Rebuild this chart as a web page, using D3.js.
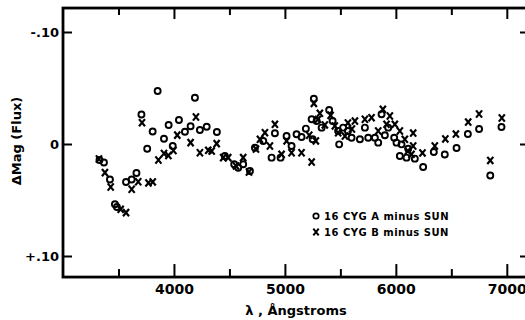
<!DOCTYPE html>
<html>
<head>
<meta charset="utf-8">
<script src="https://cdn.jsdelivr.net/npm/d3@7"></script>
<style>
  body { margin: 0; background: #fff; }
  svg { display: block; font-family: "DejaVu Sans", sans-serif; font-weight: bold; }
  .domain { display: none; }
  .tick line { stroke: #000; stroke-width: 2; }
  .tick text { fill: #000; }
</style>
</head>
<body>
<svg id="chart" width="525" height="320"></svg>
<script>
// 16 Cyg A minus Sun (circles)
const lambdaA = [3329, 3369, 3423, 3468, 3486, 3568, 3619, 3662, 3707, 3759, 3808, 3853,
  3910, 3952, 3989, 4045, 4099, 4150, 4189, 4234, 4295, 4387, 4459, 4543, 4579, 4624,
  4685, 4730, 4805, 4880, 4910, 4961, 5015, 5060, 5105, 5150, 5189, 5241, 5250, 5261,
  5286, 5331, 5399, 5430, 5480, 5489, 5525, 5568, 5601, 5676, 5721, 5751, 5811, 5841,
  5871, 5901, 5931, 5985, 6006, 6036, 6051, 6096, 6111, 6171, 6246, 6342, 6441, 6547,
  6649, 6750, 6851, 6952];
const magA = [0.0143, 0.0165, 0.0317, 0.0538, 0.0563, 0.0339, 0.0317, 0.0259, -0.0263, 0.0042, -0.0112, -0.0473,
  -0.0047, -0.0170, 0.0018, -0.0214, -0.0110, -0.0158, -0.0413, -0.0125, -0.0154, -0.0107, 0.0107, 0.0181, 0.0212, 0.0181,
  0.0241, 0.0033, -0.0027, 0.0122, -0.0096, 0.0122, -0.0071, 0.0018, -0.0087, -0.0063, -0.0137, -0.0221, -0.0042, -0.0404,
  -0.0205, -0.0146, -0.0304, -0.0205, -0.0116, 0.0003, -0.0146, -0.0116, -0.0056, -0.0042, -0.0146, -0.0056, -0.0056, -0.0012,
  -0.0265, -0.0078, -0.0146, -0.0056, -0.0012, 0.0107, 0.0003, 0.0122, 0.0042, 0.0131, 0.0205, 0.0071, 0.0094, 0.0036,
  -0.0089, -0.0134, 0.0281, -0.0152];

// 16 Cyg B minus Sun (crosses)
const lambdaB = [3324, 3378, 3430, 3520, 3568, 3619, 3678, 3712, 3770, 3809, 3860, 3910,
  3950, 3995, 4030, 4150, 4198, 4234, 4309, 4340, 4385, 4444, 4489, 4559, 4624, 4676,
  4739, 4775, 4820, 4865, 4910, 4970, 5015, 5060, 5150, 5219, 5241, 5261, 5279, 5297,
  5315, 5360, 5412, 5450, 5480, 5541, 5568, 5604, 5631, 5721, 5781, 5841, 5883, 5916,
  5946, 5991, 6036, 6081, 6108, 6141, 6156, 6156, 6240, 6351, 6446, 6541, 6652, 6750,
  6851, 6955];
const magB = [0.0134, 0.0256, 0.0384, 0.0583, 0.0613, 0.0404, 0.0337, -0.0190, 0.0348, 0.0339, 0.0143, 0.0085,
  0.0103, 0.0058, -0.0079, -0.0012, -0.0241, 0.0078, 0.0056, 0.0063, -0.0003, 0.0122, 0.0122, 0.0196, 0.0122, 0.0250,
  0.0045, -0.0042, -0.0101, 0.0018, -0.0176, 0.0092, -0.0027, 0.0078, 0.0078, -0.0078, 0.0161, -0.0363, -0.0027, -0.0219,
  -0.0274, -0.0170, -0.0256, -0.0161, -0.0100, -0.0071, -0.0188, -0.0134, -0.0205, -0.0221, -0.0235, -0.0116, -0.0310, -0.0176,
  -0.0250, -0.0176, -0.0116, -0.0042, 0.0063, 0.0092, -0.0098, 0.0018, 0.0080, 0.0018, -0.0045, -0.0089, -0.0196, -0.0268,
  0.0147, -0.0232];

const xMajor = [4000, 5000, 6000, 7000];
const xMinor = [3500, 4500, 5500, 6500];
const yMajor = [-0.10, 0, 0.10];
const yLabels = ["-.10", "0", "+.10"];
const legendLabels = ["16 CYG A minus SUN", "16 CYG B minus SUN"];

const svg = d3.select("#chart");

// scales (y inverted: brighter up)
const x = d3.scaleLinear().domain([3000, 7200]).range([63, 529]);
const y = d3.scaleLinear().domain([-0.10, 0.10]).range([32, 256]);
const yTop = y(-0.1214), yBottom = y(0.1188);

// frame
svg.append("rect")
  .attr("x", x(3000)).attr("y", yTop)
  .attr("width", x(7200) - x(3000)).attr("height", yBottom - yTop)
  .attr("fill", "none").attr("stroke", "#000").attr("stroke-width", 2.8);

// bottom axis, ticks pointing in
svg.append("g")
  .attr("transform", `translate(0,${yBottom})`)
  .call(d3.axisBottom(x).tickValues(xMajor).tickSize(-13).tickPadding(7).tickFormat(d3.format("d")))
  .call(g => g.selectAll("text").attr("font-size", 14).attr("font-family", "DejaVu Sans").attr("font-weight", "bold"));
svg.append("g")
  .attr("transform", `translate(0,${yBottom})`)
  .call(d3.axisBottom(x).tickValues(xMinor).tickSize(-8).tickFormat(""));

// top axis
svg.append("g")
  .attr("transform", `translate(0,${yTop})`)
  .call(d3.axisTop(x).tickValues(xMajor).tickSize(-11).tickFormat(""));
svg.append("g")
  .attr("transform", `translate(0,${yTop})`)
  .call(d3.axisTop(x).tickValues(xMinor).tickSize(-7).tickFormat(""));

// left axis
svg.append("g")
  .attr("transform", `translate(${x(3000)},0)`)
  .call(d3.axisLeft(y).tickValues(yMajor).tickSize(-9).tickPadding(4)
    .tickFormat((d, i) => yLabels[i]))
  .call(g => g.selectAll("text").attr("font-size", 13).attr("font-family", "DejaVu Sans").attr("font-weight", "bold"));

// right axis
svg.append("g")
  .attr("transform", `translate(${x(7200)},0)`)
  .call(d3.axisRight(y).tickValues(yMajor).tickSize(-9).tickFormat(""));

// axis titles
svg.append("text")
  .attr("x", 296).attr("y", 315)
  .attr("text-anchor", "middle").attr("font-size", 13)
  .text("λ , Ångstroms");
svg.append("text")
  .attr("transform", "translate(21,141) rotate(-90)")
  .attr("text-anchor", "middle").attr("font-size", 13)
  .text("ΔMag (Flux)");

// markers
const xPath = (cx, cy, w, h) => `M${cx - w},${cy - h}L${cx + w},${cy + h}M${cx + w},${cy - h}L${cx - w},${cy + h}`;

svg.append("g")
  .selectAll("circle")
  .data(lambdaA.map((l, i) => [l, magA[i]]))
  .join("circle")
  .attr("cx", d => x(d[0]))
  .attr("cy", d => y(d[1]))
  .attr("r", 3)
  .attr("fill", "none").attr("stroke", "#000").attr("stroke-width", 1.9);

svg.append("g")
  .selectAll("path")
  .data(lambdaB.map((l, i) => [l, magB[i]]))
  .join("path")
  .attr("d", d => xPath(x(d[0]), y(d[1]), 3, 3.6))
  .attr("fill", "none").attr("stroke", "#000").attr("stroke-width", 2.2);

// legend
const legend = svg.append("g").attr("font-size", 10).attr("letter-spacing", 0.5);
legend.append("circle")
  .attr("cx", 316).attr("cy", 216).attr("r", 2.7)
  .attr("fill", "none").attr("stroke", "#000").attr("stroke-width", 1.7);
legend.append("path")
  .attr("d", xPath(316, 232, 2.7, 3.3))
  .attr("stroke", "#000").attr("stroke-width", 2);
legend.selectAll("text")
  .data(legendLabels)
  .join("text")
  .attr("x", 324)
  .attr("y", (d, i) => 220 + i * 16)
  .text(d => d);
</script>
</body>
</html>
